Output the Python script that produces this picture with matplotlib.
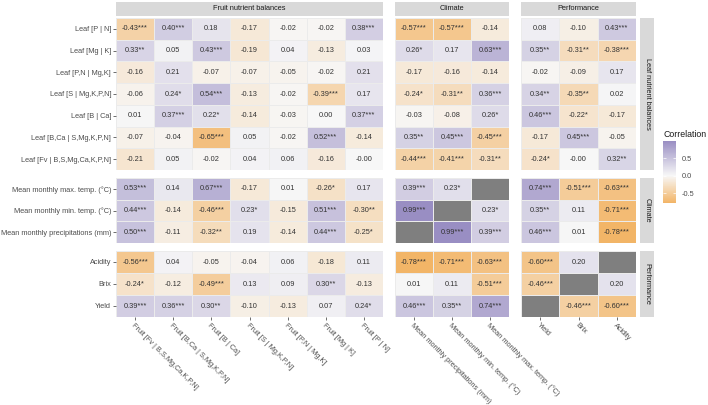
import numpy as np
import matplotlib.pyplot as plt
from matplotlib.colors import LinearSegmentedColormap, Normalize
from matplotlib.cm import ScalarMappable

plt.rcParams['font.family'] = ['Liberation Sans', 'DejaVu Sans']

## Labels ##
fruit_cols = ['Fruit [Fv | B,S,Mg,Ca,K,P,N]', 'Fruit [B,Ca | S,Mg,K,P,N]', 'Fruit [B | Ca]',
              'Fruit [S | Mg,K,P,N]', 'Fruit [P,N | Mg,K]', 'Fruit [Mg | K]', 'Fruit [P | N]']
climate_cols = ['Mean monthly precipitations (mm)', 'Mean monthly min. temp. (°C)',
                'Mean monthly max. temp. (°C)']
perf_cols = ['Yield', 'Brix', 'Acidity']

leaf_rows = ['Leaf [P | N]', 'Leaf [Mg | K]', 'Leaf [P,N | Mg,K]', 'Leaf [S | Mg,K,P,N]',
             'Leaf [B | Ca]', 'Leaf [B,Ca | S,Mg,K,P,N]', 'Leaf [Fv | B,S,Mg,Ca,K,P,N]']
climate_rows = ['Mean monthly max. temp. (°C)', 'Mean monthly min. temp. (°C)',
                'Mean monthly precipitations (mm)']
perf_rows = ['Acidity', 'Brix', 'Yield']

col_groups = ['Fruit nutrient balances', 'Climate', 'Performance']
row_groups = ['Leaf nutrient balances', 'Climate', 'Performance']

nan = np.nan
# correlations: columns = fruit (7) | climate (3) | performance (3)
leaf_r = [
    [-0.43, 0.40, 0.18, -0.17, -0.02, -0.02, 0.38, -0.57, -0.57, -0.14, 0.08, -0.10, 0.43],
    [0.33, 0.05, 0.43, -0.19, 0.04, -0.13, 0.03, 0.26, 0.17, 0.63, 0.35, -0.31, -0.38],
    [-0.16, 0.21, -0.07, -0.07, -0.05, -0.02, 0.21, -0.17, -0.16, -0.14, -0.02, -0.09, 0.17],
    [-0.06, 0.24, 0.54, -0.13, -0.02, -0.39, 0.17, -0.24, -0.31, 0.36, 0.34, -0.35, 0.02],
    [0.01, 0.37, 0.22, -0.14, -0.03, 0.00, 0.37, -0.03, -0.08, 0.26, 0.46, -0.22, -0.17],
    [-0.07, -0.04, -0.65, 0.05, -0.02, 0.52, -0.14, 0.35, 0.45, -0.45, -0.17, 0.45, -0.05],
    [-0.21, 0.05, -0.02, 0.04, 0.06, -0.16, -0.0, -0.44, -0.41, -0.31, -0.24, -0.0, 0.32],
]
leaf_sig = [
    ['***', '***', '', '', '', '', '***', '***', '***', '', '', '', '***'],
    ['**', '', '***', '', '', '', '', '*', '', '***', '**', '**', '***'],
    ['', '', '', '', '', '', '', '', '', '', '', '', ''],
    ['', '*', '***', '', '', '***', '', '*', '**', '***', '**', '**', ''],
    ['', '***', '*', '', '', '', '***', '', '', '*', '***', '*', ''],
    ['', '', '***', '', '', '***', '', '**', '***', '***', '', '***', ''],
    ['', '', '', '', '', '', '', '***', '***', '**', '*', '', '**'],
]
climate_r = [
    [0.53, 0.14, 0.67, -0.17, 0.01, -0.26, 0.17, 0.39, 0.23, nan, 0.74, -0.51, -0.63],
    [0.44, -0.14, -0.46, 0.23, -0.15, 0.51, -0.30, 0.99, nan, 0.23, 0.35, 0.11, -0.71],
    [0.50, -0.11, -0.32, 0.19, -0.14, 0.44, -0.25, nan, 0.99, 0.39, 0.46, 0.01, -0.78],
]
climate_sig = [
    ['***', '', '***', '', '', '*', '', '***', '*', '', '***', '***', '***'],
    ['***', '', '***', '*', '', '***', '**', '***', '', '*', '**', '', '***'],
    ['***', '', '**', '', '', '***', '*', '', '***', '***', '***', '', '***'],
]
perf_r = [
    [-0.56, 0.04, -0.05, -0.04, 0.06, -0.18, 0.11, -0.78, -0.71, -0.63, -0.60, 0.20, nan],
    [-0.24, -0.12, -0.49, 0.13, 0.09, 0.30, -0.13, 0.01, 0.11, -0.51, -0.46, nan, 0.20],
    [0.39, 0.36, 0.30, -0.10, -0.13, 0.07, 0.24, 0.46, 0.35, 0.74, nan, -0.46, -0.60],
]
perf_sig = [
    ['***', '', '', '', '', '', '', '***', '***', '***', '***', '', ''],
    ['*', '', '***', '', '', '**', '', '', '', '***', '***', '', ''],
    ['***', '***', '**', '', '', '', '*', '***', '**', '***', '', '***', '***'],
]

## Figure ##
W, H = 708, 405
fig = plt.figure(figsize=(W / 100, H / 100), dpi=100)

def box(x0, y0, x1, y1):
    return [x0 / W, 1 - y1 / H, (x1 - x0) / W, (y1 - y0) / H]

cmap = LinearSegmentedColormap.from_list('puor', ['#f1a340', '#f7f7f7', '#998ec3'])
cmap.set_bad('#7f7f7f')
allr = np.array(leaf_r + climate_r + perf_r, dtype=float)
lim = np.nanmax(np.abs(allr))
norm = Normalize(-lim, lim)

col_x = [(116, 383), (395, 509), (521, 636)]
col_slices = [slice(0, 7), slice(7, 10), slice(10, 13)]
col_labels = [fruit_cols, climate_cols, perf_cols]
row_y = [(18, 170), (178, 243), (251, 317)]
row_data = [(leaf_r, leaf_sig, leaf_rows), (climate_r, climate_sig, climate_rows),
            (perf_r, perf_sig, perf_rows)]

for i, (r, sig, rlabels) in enumerate(row_data):
    r = np.array(r, dtype=float)
    for j, sl in enumerate(col_slices):
        sub = r[:, sl]
        ssig = [row[sl] for row in sig]
        nr, nc = sub.shape
        ax = fig.add_axes(box(col_x[j][0], row_y[i][0], col_x[j][1], row_y[i][1]))
        ax.pcolormesh(np.ma.masked_invalid(sub), cmap=cmap, norm=norm,
                      edgecolors='#ebebeb', linewidth=0.4)
        for a in range(nr):
            for b in range(nc):
                if not np.isnan(sub[a, b]):
                    ax.text(b + 0.5, a + 0.5, f'{sub[a, b]:.2f}{ssig[a][b]}',
                            ha='center', va='center', fontsize=5.3, color='#333333')
        ax.set_xlim(0, nc)
        ax.set_ylim(nr, 0)
        for s in ax.spines.values():
            s.set_visible(False)
        ax.tick_params(length=2, width=0.5, color='#333333', labelsize=5.3,
                       labelcolor='#4d4d4d', pad=1.5)
        ax.set_yticks(np.arange(nr) + 0.5)
        ax.set_xticks(np.arange(nc) + 0.5)
        if j == 0:
            ax.set_yticklabels(rlabels)
        else:
            ax.tick_params(left=False, labelleft=False)
        if i == 2:
            ax.set_xticklabels(col_labels[j], rotation=-45, ha='left', va='top',
                               rotation_mode='anchor')
        else:
            ax.tick_params(bottom=False, labelbottom=False)

# facet strips
for j, name in enumerate(col_groups):
    sax = fig.add_axes(box(col_x[j][0], 2, col_x[j][1], 16))
    sax.set_facecolor('#d9d9d9')
    sax.set_xticks([]); sax.set_yticks([])
    for s in sax.spines.values():
        s.set_visible(False)
    sax.text(0.5, 0.5, name, ha='center', va='center', fontsize=5.3, color='#1a1a1a',
             transform=sax.transAxes)
for i, name in enumerate(row_groups):
    sax = fig.add_axes(box(640, row_y[i][0], 654, row_y[i][1]))
    sax.set_facecolor('#d9d9d9')
    sax.set_xticks([]); sax.set_yticks([])
    for s in sax.spines.values():
        s.set_visible(False)
    sax.text(0.5, 0.5, name, ha='center', va='center', fontsize=5.3, color='#1a1a1a',
             rotation=-90, transform=sax.transAxes)

# legend
cax = fig.add_axes(box(663, 141, 676, 203))
sm = ScalarMappable(norm=norm, cmap=cmap)
cb = fig.colorbar(sm, cax=cax, boundaries=np.linspace(np.nanmin(allr), np.nanmax(allr), 200),
                  ticks=[-0.5, 0, 0.5])
cb.outline.set_visible(False)
cb.ax.set_yticklabels(['-0.5', '0.0', '0.5'])
cb.ax.tick_params(left=True, direction='in', length=2.5, width=0.5, color='white',
                  pad=4, labelsize=5.3, labelcolor='#4d4d4d')
fig.text(663 / W, 1 - 135 / H, 'Correlation', fontsize=6.3, va='center', ha='left', color='#1a1a1a')

plt.savefig('out.png', dpi=100)
